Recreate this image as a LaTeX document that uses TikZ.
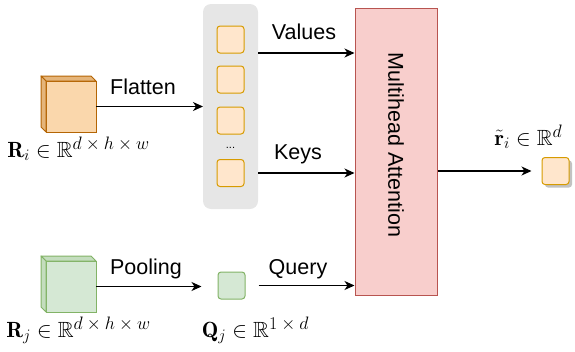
\documentclass[tikz,border=0pt]{standalone}
\usepackage{fix-cm}
\usepackage{amsmath}
\usepackage{amssymb}
\usepackage{fontspec}
\newfontfamily\sansf{Liberation Sans}
\usetikzlibrary{arrows.meta,shadows}
\DeclareMathSizes{22}{22}{16}{12}
% superscript shapes set at a larger size than plain script style
\newcommand{\shp}[1]{\text{\fontsize{18}{20}\selectfont$#1$}}

\definecolor{grpfill}{HTML}{E6E6E6}
\definecolor{cellfill}{HTML}{FFE6CC}
\definecolor{cellline}{HTML}{D79B00}
\definecolor{cubefill}{HTML}{FAD7AC}
\definecolor{cubeline}{HTML}{B46504}
\definecolor{grnfill}{HTML}{D5E8D4}
\definecolor{grnline}{HTML}{82B366}
\definecolor{attfill}{HTML}{F8CECC}
\definecolor{attline}{HTML}{B85450}

\begin{document}
\begin{tikzpicture}[x=1pt,y=-1pt,
  lbl/.style={font=\sansf\fontsize{21.5}{24}\selectfont, inner sep=0pt},
  mth/.style={font=\fontsize{22}{26}\selectfont, inner sep=0pt},
  arr/.style={line width=1.2pt, -{Stealth[length=10pt,width=9pt,inset=3pt]}},
  cell/.style={draw=cellline, fill=cellfill, line width=1pt, rounded corners=3pt,
    minimum width=27pt, minimum height=27pt, inner sep=0pt},
  qcell/.style={cell, draw=grnline, fill=grnfill},
  cubefront/.style={line width=1pt, minimum width=50pt, minimum height=51pt,
    inner sep=0pt, outer sep=0pt},
]
\useasboundingbox (0,0) rectangle (575,351);

% feature map R_i (orange cube)
\node[cubefront, draw=cubeline, fill=cubefill] (ri) at (71,106.5) {};
\filldraw[draw=cubeline, fill=cubefill!70!cubeline, line width=1pt, line join=round]
  (ri.north west) -- ++(-5,-5) -- ++(50,0) -- (ri.north east) -- cycle;
\filldraw[draw=cubeline, fill=cubefill!70!cubeline, line width=1pt, line join=round]
  (ri.north west) -- ++(-5,-5) -- ++(0,51) -- (ri.south west) -- cycle;

% feature map R_j (green cube)
\node[cubefront, draw=grnline, fill=grnfill] (rj) at (71,286.5) {};
\filldraw[draw=grnline, fill=grnfill!80!grnline, line width=1pt, line join=round]
  (rj.north west) -- ++(-5,-5) -- ++(50,0) -- (rj.north east) -- cycle;
\filldraw[draw=grnline, fill=grnfill!80!grnline, line width=1pt, line join=round]
  (rj.north west) -- ++(-5,-5) -- ++(0,51) -- (rj.south west) -- cycle;

% flattened tokens
\node[fill=grpfill, rounded corners=8pt, minimum width=55pt, minimum height=205pt,
  inner sep=0pt, outer sep=0pt] (grp) at (230.5,106.5) {};
\node[cell] (c1) at (230.5,39.5) {};
\node[cell] (c2) at (230.5,79.5) {};
\node[cell] (c3) at (230.5,120.5) {};
\node[font=\sansf\fontsize{11}{12}\selectfont, inner sep=0pt, anchor=base] (dots) at (230.5,148) {...};
\node[cell] (c5) at (230.5,173) {};

% pooled query
\node[qcell] (q) at (231.5,285.5) {};

% attention block
\node[draw=attline, fill=attfill, line width=1pt, minimum width=82pt, minimum height=287pt,
  inner sep=0pt] (mha) at (396,151.5) {};
\node[lbl, rotate=-90] (mhatxt) at (396,145) {Multihead Attention};

% output token
\node[cell, drop shadow={shadow xshift=3pt, shadow yshift=-3pt, fill=black!40, opacity=.6}]
  (out) at (555.5,171) {};

% connectors
\draw[arr] (ri.east) -- (grp.west |- ri.east);
\path ([yshift=-49pt]grp.north east) coordinate (vstart);
\draw[arr] (vstart) -- (vstart -| mha.west);
\draw[arr] (grp.east |- c5) -- (mha.west |- c5);
\draw[arr, shorten >=16pt] (rj.east) -- (q.west |- rj.east);
\draw[arr, shorten <=13pt] (q.east) -- (mha.west |- q.east);
\draw[arr, shorten >=10pt] (mha.east |- out.west) -- (out.west);

% connector labels
\node[lbl, anchor=base] (tflat) at (143,94) {Flatten};
\node[lbl, anchor=base] (tval) at (304,39) {Values};
\node[lbl, anchor=base] (tkey) at (298,159) {Keys};
\node[lbl, anchor=base] (tpool) at (146,274) {Pooling};
\node[lbl, anchor=base] (tquery) at (298,274) {Query};

% tensor shapes
\node[mth, anchor=base] (lri) at (78.5,157)
  {$\mathbf{R}_i \in \mathbb{R}^{\shp{d\times h\times w}}$};
\node[mth, anchor=base] (lrj) at (78.5,337)
  {$\mathbf{R}_j \in \mathbb{R}^{\shp{d\times h\times w}}$};
\node[mth, anchor=base] (lq) at (255.5,337)
  {$\mathbf{Q}_j \in \mathbb{R}^{\shp{1\times d}}$};
\node[mth, anchor=base] (lout) at (528.5,145)
  {$\tilde{\mathbf{r}}_i \in \mathbb{R}^{\shp{d}}$};
\end{tikzpicture}
\end{document}
